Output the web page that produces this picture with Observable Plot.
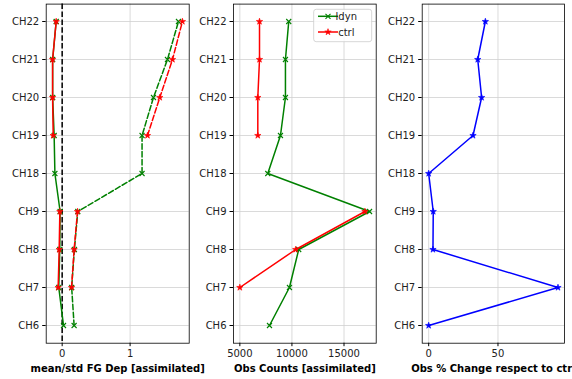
<!DOCTYPE html>
<html>
<head>
<meta charset="utf-8">
<script src="https://cdn.jsdelivr.net/npm/d3@7"></script>
<script src="https://cdn.jsdelivr.net/npm/@observablehq/plot@0.6"></script>
<style>
  html, body { margin: 0; padding: 0; background: white; }
  #chart { position: relative; width: 572px; height: 379px; overflow: hidden; background: white; }
  #chart svg { position: absolute; left: 0; top: 0; overflow: visible; }
</style>
</head>
<body>
<div id="chart"></div>
<script>
// ---- data ----
const channels = ["CH6","CH7","CH8","CH9","CH18","CH19","CH20","CH21","CH22"];
const meanLdyn = [0.02, -0.05, -0.035, -0.03, -0.107, -0.118, -0.14, -0.14, -0.088];
const meanCtrl = [NaN, -0.059, -0.044, -0.034, NaN, -0.132, -0.141, -0.141, -0.088];
const stdLdyn  = [0.176, 0.14, 0.18, 0.23, 1.176, 1.176, 1.344, 1.55, 1.712];
const stdCtrl  = [NaN, 0.138, 0.176, 0.226, NaN, 1.256, 1.437, 1.624, 1.77];
const countLdyn = [7845, 9760, 10651, 17452, 7682, 8899, 9377, 9377, 9693];
const countCtrl = [NaN, 5000, 10364, 17011, NaN, 6724, 6724, 6887, 6887];
const pctChange = [0, 93.3, 3.1, 3.3, 0, 32.0, 38.2, 35.4, 40.9];
const seriesNames = ["ldyn", "ctrl"];
const xLabels = ["mean/std FG Dep [assimilated]", "Obs Counts [assimilated]", "Obs % Change respect to ctrl"];

const rows = channels.map((c, i) => ({
  ch: c, meanLdyn: meanLdyn[i], meanCtrl: meanCtrl[i], stdLdyn: stdLdyn[i], stdCtrl: stdCtrl[i],
  countLdyn: countLdyn[i], countCtrl: countCtrl[i], pct: pctChange[i]
}));

const W = 572, H = 379;
const frameTop = 3.6, frameBottom = 342.7;
const yOrder = channels.slice().reverse();
const GREEN = "#008000", RED = "#ff0000", BLUE = "#0000ff", GRID = "#d0d0d0";
const dash = "5.5,2.4";
const STAR_R = 2.0, TIMES_R = 2.4;

function panel(left, right, xDomain, xTicks, xFmt, label, marks) {
  return Plot.plot({
    width: W, height: H,
    marginLeft: left, marginRight: W - right, marginTop: frameTop, marginBottom: H - frameBottom,
    style: { fontFamily: "DejaVu Sans", fontSize: "10px", background: "transparent", color: "black", overflow: "visible" },
    x: { domain: xDomain },
    y: { type: "point", domain: yOrder, padding: 0.4 },
    marks: [
      Plot.gridY(yOrder, { stroke: GRID, strokeOpacity: 1, strokeWidth: 0.8 }),
      Plot.gridX(xTicks, { stroke: GRID, strokeOpacity: 1, strokeWidth: 0.8 }),
      ...marks,
      Plot.frame({ stroke: "black", strokeWidth: 0.8 }),
      Plot.axisY(yOrder, { tickSize: 3.5, tickPadding: 3.5, label: null, fontSize: 10, fill: "#222" }),
      Plot.axisX(xTicks, { tickSize: 3.5, tickPadding: 3, label: null, tickFormat: xFmt, fontSize: 10, fill: "#222" }),
      Plot.text([label], { frameAnchor: "bottom", dy: 25.5, text: d => d, fontWeight: "bold", fontSize: 10, fill: "black", lineAnchor: "middle" })
    ]
  });
}

function seriesMarks(xKey, color, sym, dashed) {
  const lineOpts = { x: xKey, y: "ch", stroke: color, strokeWidth: 1.5 };
  if (dashed) lineOpts.strokeDasharray = dash;
  const dotOpts = sym === "times"
    ? { x: xKey, y: "ch", symbol: "times", stroke: color, strokeWidth: 1.1, r: TIMES_R, fill: "none" }
    : { x: xKey, y: "ch", symbol: "star", fill: color, stroke: color, strokeWidth: 0.6, r: STAR_R };
  return [
    Plot.line(rows, lineOpts),
    Plot.dot(rows.filter(d => Number.isFinite(d[xKey])), dotOpts)
  ];
}

const chart = document.getElementById("chart");

// Panel 1
const p1 = panel(45.7, 188.7, [-0.235, 1.87], [0, 1], d => String(d), xLabels[0], [
  Plot.ruleX([0], { stroke: "black", strokeWidth: 1.5, strokeDasharray: dash }),
  ...seriesMarks("meanLdyn", GREEN, "times", false),
  ...seriesMarks("meanCtrl", RED, "star", false),
  ...seriesMarks("stdLdyn", GREEN, "times", true),
  ...seriesMarks("stdCtrl", RED, "star", true)
]);
chart.appendChild(p1);

// Panel 2
const p2 = panel(233, 375.7, [4390, 18090], [5000, 10000, 15000], d3.format("d"), xLabels[1], [
  ...seriesMarks("countLdyn", GREEN, "times", false),
  ...seriesMarks("countCtrl", RED, "star", false)
]);
chart.appendChild(p2);

// Legend in panel 2
{
  const svg = d3.select(p2);
  const g = svg.append("g").attr("font-family", "DejaVu Sans").attr("font-size", 10);
  g.append("rect").attr("x", 313.7).attr("y", 9.3).attr("width", 58).attr("height", 32.4)
    .attr("rx", 2.5).attr("fill", "white").attr("fill-opacity", 0.8).attr("stroke", "#cccccc").attr("stroke-width", 0.8);
  const entries = [
    { name: seriesNames[0], color: GREEN, sym: d3.symbolTimes, y: 16.3, filled: false },
    { name: seriesNames[1], color: RED, sym: d3.symbolStar, y: 32, filled: true }
  ];
  for (const e of entries) {
    g.append("line").attr("x1", 318).attr("x2", 338).attr("y1", e.y).attr("y2", e.y)
      .attr("stroke", e.color).attr("stroke-width", 1.5);
    g.append("path").attr("d", d3.symbol(e.sym, e.filled ? STAR_R * STAR_R * Math.PI : TIMES_R * TIMES_R * Math.PI)())
      .attr("transform", `translate(328,${e.y})`)
      .attr("fill", e.filled ? e.color : "none").attr("stroke", e.color).attr("stroke-width", e.filled ? 0.6 : 1.1);
    g.append("text").attr("x", 346.3).attr("y", e.y).attr("dy", "0.35em").attr("fill", "#222").text(e.name);
  }
}

// Panel 3
const p3 = panel(421.7, 564, [-4.67, 98], [0, 50], d => String(d), xLabels[2], [
  ...seriesMarks("pct", BLUE, "star", false)
]);
chart.appendChild(p3);
</script>
</body>
</html>
